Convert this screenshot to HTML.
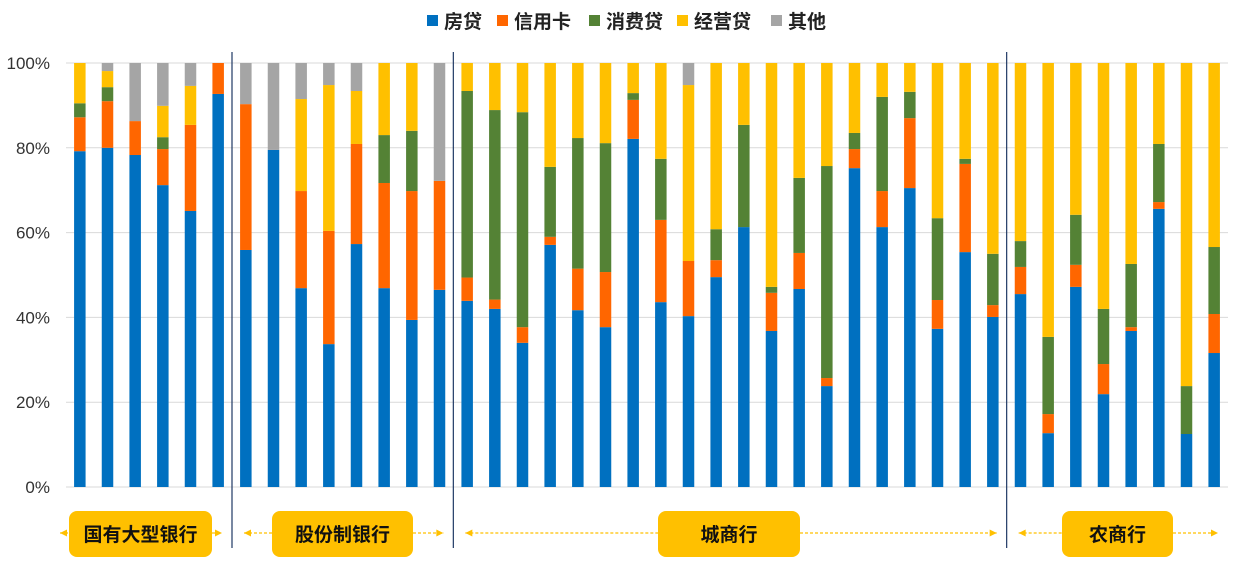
<!DOCTYPE html>
<html><head><meta charset="utf-8">
<style>
html,body{margin:0;padding:0;background:#fff;}
svg{display:block;font-family:"Liberation Sans","Noto Sans CJK SC",sans-serif;}
</style></head>
<body>
<svg id="chart" width="1235" height="583" viewBox="0 0 1235 583" xmlns="http://www.w3.org/2000/svg">
<g id="legend"></g>
<g id="grid"></g>
<g id="yaxis"></g>
<g id="bars"></g>
<g id="groups"></g>
</svg>
<script>
const seriesNames = ["房贷","信用卡","消费贷","经营贷","其他"];
const seriesColors = ["#0070C0","#FF6600","#548235","#FFC000","#A5A5A5"];
const yTicks = [0,20,40,60,80,100];
const tickLabels = ["0%","20%","40%","60%","80%","100%"];
const mortgage = [79.2,80,78.3,71.2,65.1,92.7, 55.9,79.5,46.9,33.7,57.3,46.9,39.4,46.5,
 43.9,42,34,57.1,41.7,37.7,82.1,43.6,40.3,49.5,61.3,36.8,46.7,23.8,75.2,61.3,70.5,37.3,55.4,40.1,
 45.5,12.7,47.2,21.9,36.8,65.6,12.5,31.6];
const creditCard = [8,11,8,8.5,20.3,7.3, 34.4,0,22.9,26.7,23.6,24.8,30.4,25.7,
 5.5,2.2,3.7,1.9,9.8,13,9.2,19.4,13,4,0,9,8.5,1.9,4.5,8.5,16.5,6.8,20.8,2.8,
 6.4,4.5,5.2,7.1,0.9,1.6,0,9.2];
const consumer = [3.3,3.3,0,2.8,0,0, 0,0,0,0,0,11.3,14.2,0,
 44,44.7,50.7,16.5,30.8,30.4,1.6,14.4,0,7.3,24.1,1.4,17.7,50,3.8,22.2,6.2,19.3,1.2,12.1,
 6.1,18.2,11.8,13,14.9,13.7,11.3,15.8];
const business = [9.5,3.8,0,7.4,9.2,0, 0,0,21.7,34.4,12.5,17,16,0,
 6.6,11.1,11.6,24.5,17.7,18.9,7.1,22.6,41.5,39.2,14.6,52.8,27.1,24.3,16.5,8,6.8,36.6,22.6,45,
 42,64.6,35.8,58,47.4,19.1,76.2,43.4];
const other = [0,1.9,13.7,10.1,5.4,0, 9.7,20.5,8.5,5.2,6.6,0,0,27.8,
 0,0,0,0,0,0,0,0,5.2,0,0,0,0,0,0,0,0,0,0,0,
 0,0,0,0,0,0,0,0];
const groupNames = ["国有大型银行","股份制银行","城商行","农商行"];
const groupSizes = [6,8,20,8];

const NS="http://www.w3.org/2000/svg";
function mk(tag,attrs,parent){const e=document.createElementNS(NS,tag);for(const k in attrs)e.setAttribute(k,attrs[k]);parent.appendChild(e);return e;}
const X0=66,X1=1228,Y0=487,Y100=63;
const n=mortgage.length, step=(X1-X0)/n, bw=11.5;
const y=v=>Y0-(Y0-Y100)*v/100;
const xc=i=>X0+step*(i+0.5);

// grid & y labels
const grid=document.getElementById('grid'), ya=document.getElementById('yaxis');
yTicks.forEach((t,i)=>{
  const l=mk('line',{x1:X0,x2:X1,y1:y(t),y2:y(t),stroke:'#d9d9d9','stroke-width':1},grid);
  
  
  const tx=mk('text',{x:50,y:y(t)+6,'text-anchor':'end','font-size':17,fill:'#333'},ya);
  tx.textContent=tickLabels[i];
  
  
});

// bars
const bars=document.getElementById('bars');
const series=[mortgage,creditCard,consumer,business,other];
for(let i=0;i<n;i++){
  let cum=0;
  series.forEach((s,k)=>{
    const v=s[i]; if(!v) return;
    const r=mk('rect',{x:xc(i)-bw/2,y:y(cum+v),width:bw,height:y(cum)-y(cum+v),fill:seriesColors[k]},bars);
    
    
    cum+=v;
  });
}

// legend
const lg=document.getElementById('legend');
const legX=[427,497,589,677,771];
seriesNames.forEach((nm,k)=>{
  const g=mk('g',{},lg);
  
  
  mk('rect',{x:legX[k],y:15,width:11,height:11,fill:seriesColors[k]},g);
  const t=mk('text',{x:legX[k]+17,y:28,'font-size':19,'font-weight':'bold',fill:'#222'},g);
  t.textContent=nm;
});

// separators & group labels
const gg=document.getElementById('groups');
let start=0;
const boxes=[[69,212],[272,413],[658,800],[1062,1173]];
groupSizes.forEach((sz,gi)=>{
  const left=X0+step*start, right=X0+step*(start+sz);
  if(gi>0){
    const s=mk('line',{x1:left,x2:left,y1:52,y2:548,stroke:'#1F3864','stroke-width':1.2},gg);
    
    
  }
  const [bx0,bx1]=boxes[gi];
  const ax0=left+(gi===0?-6:12), ax1=right-10, cy=533;
  [[ax0,bx0,-1],[bx1,ax1,1]].forEach(([a,b,d])=>{
    const ln=mk('line',{x1:a,x2:b,y1:cy,y2:cy,stroke:'#FFC000','stroke-width':1.2,'stroke-dasharray':'3,2'},gg);
    
    
    const tip=d<0?a:b;
    mk('polygon',{points:`${tip},${cy} ${tip-d*7},${cy-3.5} ${tip-d*7},${cy+3.5}`,fill:'#FFC000'},gg);
  });
  const r=mk('rect',{x:bx0,y:511,width:bx1-bx0,height:46,rx:8,fill:'#FFC000'},gg);
  
  
  const t=mk('text',{x:(bx0+bx1)/2,y:541,'text-anchor':'middle','font-size':19,'font-weight':'bold',fill:'#111'},gg);
  t.textContent=groupNames[gi];
  
  
  start+=sz;
});
</script>
</body></html>
